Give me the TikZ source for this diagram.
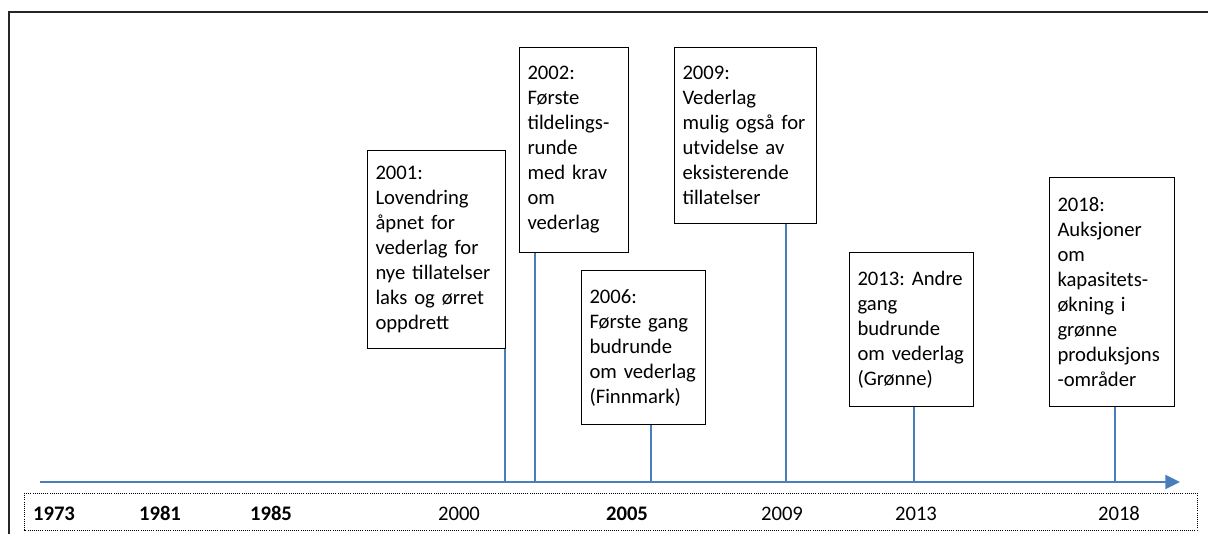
\documentclass[tikz,border=0pt]{standalone}
\usepackage{fontspec}
\setmainfont{Carlito}
\usetikzlibrary{arrows.meta}
\definecolor{axisblue}{RGB}{74,126,187}
\frenchspacing

\begin{document}
\begin{tikzpicture}[x=0.75pt,y=-0.75pt,
    event/.style={draw=black, line width=0.75pt, anchor=north west, align=left,
      inner xsep=6pt, font=\fontsize{15.5pt}{18.75pt}\selectfont},
    year/.style={anchor=base, font=\fontsize{15.5pt}{18.75pt}\selectfont},
    stem/.style={draw=axisblue, line width=1.5pt}]
    \useasboundingbox (0,0) rectangle (1208,534);

    % frame and year strip
    \draw[black!85, line width=1.6pt] (9,540) -- (9,12) -- (1215,12);
    \draw[densely dotted, line width=0.6pt] (24,493) rectangle (1197,530);

    % event boxes
    \node[event, text width=91.5pt, minimum height=148.5pt] (b2001) at (367,150)
      {2001:\\Lovendring\\åpnet for\\vederlag for\\nye tillatelser\\laks og ørret\\oppdrett};
    \node[event, text width=69.75pt, minimum height=153.75pt] (b2002) at (519,47)
      {2002:\\Første\\tildelings-\\runde\\med krav\\om\\vederlag};
    \node[event, text width=81pt, minimum height=115.5pt] (b2006) at (581,270)
      {2006:\\Første gang\\budrunde\\om vederlag\\(Finnmark)};
    \node[event, text width=94.5pt, minimum height=132pt] (b2009) at (674,47)
      {2009:\\Vederlag\\mulig også for\\utvidelse av\\eksisterende\\tillatelser};
    \node[event, text width=81pt, minimum height=115.5pt] (b2013) at (849,252)
      {\mbox{2013: Andre}\\gang\\budrunde\\om vederlag\\(Grønne)};
    \node[event, text width=81.75pt, minimum height=171.75pt] (b2018) at (1049,177)
      {2018:\\Auksjoner\\om\\kapasitets-\\økning i\\grønne\\produksjons\\-områder};

    % points on the axis
    \coordinate (axstart) at (40,482);
    \coordinate (axend) at (1180,482);
    \coordinate (a2001) at (505,482);
    \coordinate (a2002) at (535,482);
    \coordinate (a2006) at (651,482);
    \coordinate (a2009) at (786,482);
    \coordinate (a2013) at (914,482);
    \coordinate (a2018) at (1115,482);

    \draw[stem] (b2001.south -| a2001) -- (a2001);
    \draw[stem] (b2002.south -| a2002) -- (a2002);
    \draw[stem] (b2006.south -| a2006) -- (a2006);
    \draw[stem] (b2009.south -| a2009) -- (a2009);
    \draw[stem] (b2013.south -| a2013) -- (a2013);
    \draw[stem] (b2018.south -| a2018) -- (a2018);
    \draw[stem, -{Triangle[length=11pt,width=10.5pt]}] (axstart) -- (axend);

    % years
    \node[year] (y1973) at (54,521) {\bfseries 1973};
    \node[year] (y1981) at (160,521) {\bfseries 1981};
    \node[year] (y1985) at (271,521) {\bfseries 1985};
    \node[year] (y2000) at (459,521) {2000};
    \node[year] (y2005) at (627,521) {\bfseries 2005};
    \node[year] (y2009) at (782,521) {2009};
    \node[year] (y2013) at (916,521) {2013};
    \node[year] (y2018) at (1119,521) {2018};
\end{tikzpicture}
\end{document}
